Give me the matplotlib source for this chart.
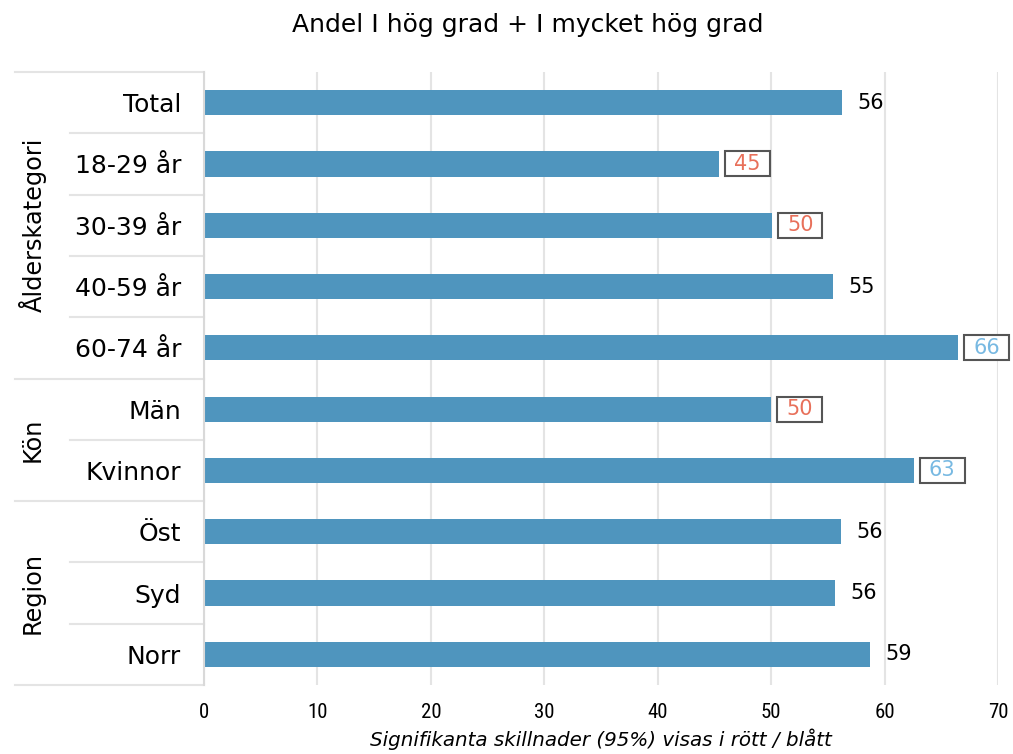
import matplotlib
matplotlib.use('Agg')
import matplotlib.pyplot as plt
import matplotlib.transforms as mtransforms
from matplotlib.patches import Rectangle
from matplotlib import font_manager

# ---- data ----
categories = ['Total', '18-29 år', '30-39 år', '40-59 år', '60-74 år',
              'Män', 'Kvinnor', 'Öst', 'Syd', 'Norr']
values = [56.25, 45.4, 50.05, 55.45, 66.45, 49.97, 62.56, 56.13, 55.64, 58.69]
significance = ['', 'low', 'low', '', 'high', 'low', 'high', '', '', '']
groups = ['Ålderskategori', 'Kön', 'Region']
group_sizes = [5, 2, 3]
xticks = [0, 10, 20, 30, 40, 50, 60, 70]
title = 'Andel I hög grad + I mycket hög grad'
xlabel = 'Signifikanta skillnader (95%) visas i rött / blått'

bar_color = '#4f95be'
red = '#e8705a'
blue = '#78b9e2'
grid_color = '#e4e4e4'

plt.rcParams['font.family'] = ['DejaVu Sans']
available = {f.name for f in font_manager.fontManager.ttflist}
narrow = None
for cand in ['Liberation Sans Narrow', 'DejaVu Sans Condensed', 'Roboto Condensed', 'Open Sans Condensed']:
    if cand in available:
        narrow = cand
        break
narrow_family = [narrow, 'DejaVu Sans'] if narrow else ['DejaVu Sans']
base = ['DejaVu Sans']

W, H = 1013, 754
fig = plt.figure(figsize=(W / 100, H / 100), dpi=100)
left_px, right_px, top_px, bot_px = 204, 998, 72, 685
ax = fig.add_axes([left_px / W, (H - bot_px) / H, (right_px - left_px) / W, (bot_px - top_px) / H])

n = len(categories)
ypos = list(range(n))
ax.barh(ypos, values, height=0.41, color=bar_color, zorder=2)
ax.set_ylim(n - 0.5, -0.5)
ax.set_xlim(0, 70)
ax.set_xticks(xticks)
ax.set_yticks(ypos)
ax.tick_params(axis='y', length=0, pad=16.5)
ax.tick_params(axis='x', length=0, pad=13)
ax.set_xticklabels([str(t) for t in xticks], fontdict={'size': 15, 'family': narrow_family})
ax.set_yticklabels(categories, fontdict={'size': 18, 'family': base})
ax.grid(axis='x', color=grid_color, lw=1.5, zorder=0)
ax.set_axisbelow(True)
for s in ['top', 'right', 'bottom']:
    ax.spines[s].set_visible(False)
ax.spines['left'].set_color('#d9d9d9')
ax.spines['left'].set_linewidth(1.5)

ax.set_xlabel(xlabel, fontsize=14.3, style='italic', labelpad=5, family=base)

fig.text(527.5 / W, 1 - 25 / H, title, fontsize=18, ha='center', va='center', family=base)

# left strip lines and group labels
bt = mtransforms.blended_transform_factory(ax.transAxes, ax.transData)
x_outer = (15 - left_px) / (right_px - left_px)
x_inner = (70 - left_px) / (right_px - left_px)
x_lab = (33 - left_px) / (right_px - left_px)
start = 0
bounds = [-0.5]
for g, sz in zip(groups, group_sizes):
    end = start + sz
    bounds.append(end - 0.5)
    for k in range(start + 1, end):
        ax.plot([x_inner, 0], [k - 0.5, k - 0.5], transform=bt, color=grid_color,
                lw=1.5, clip_on=False, zorder=1)
    ax.text(x_lab, (start + end - 1) / 2, g, transform=bt, rotation=90,
            ha='center', va='center', fontsize=17.3, family=base)
    start = end
for b in bounds:
    ax.plot([x_outer, 0], [b, b], transform=bt, color=grid_color, lw=1.5,
            clip_on=False, zorder=1)

# value labels
texts = []
for i, (v, s) in enumerate(zip(values, significance)):
    col = red if s == 'low' else (blue if s == 'high' else 'black')
    t = ax.annotate(f'{round(v)}', xy=(v, i), xytext=(11, 0), textcoords='offset points',
                    ha='left', va='center', fontsize=15, color=col, zorder=5, family=base)
    texts.append((t, s))

fig.canvas.draw()
r = fig.canvas.get_renderer()
for t, s in texts:
    if s:
        bb = t.get_window_extent(r)
        cy = (bb.y0 + bb.y1) / 2
        w = bb.width + 18
        h = 25
        rect = Rectangle((bb.x0 - 9, cy - h / 2), w, h, transform=mtransforms.IdentityTransform(),
                         fc='white', ec='#555555', lw=1.5, zorder=3, clip_on=False)
        ax.add_artist(rect)

fig.savefig('out.png', dpi=100)
